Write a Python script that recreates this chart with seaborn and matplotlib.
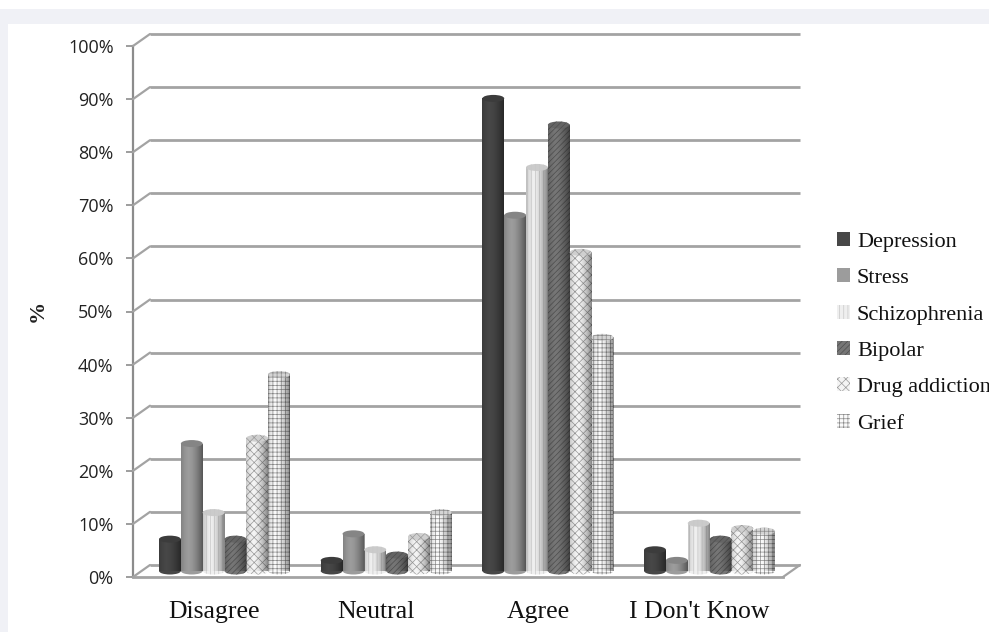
import numpy as np
import pandas as pd
import matplotlib
matplotlib.use("Agg")
import matplotlib.pyplot as plt
from matplotlib.patches import Rectangle, Ellipse, Patch
from matplotlib.lines import Line2D
from matplotlib.transforms import ScaledTranslation
import seaborn as sns

responses = ["Disagree", "Neutral", "Agree", "I Don't Know"]
conditions = ["Depression", "Stress", "Schizophrenia", "Bipolar", "Drug addiction", "Grief"]

depression = [6, 2, 89, 4]
stress = [24, 7, 67, 2]
schizophrenia = [11, 4, 76, 9]
bipolar = [6, 3, 84, 6]
drug_addiction = [25, 6.5, 60, 8]
grief = [37, 11, 44, 7.5]

values = [depression, stress, schizophrenia, bipolar, drug_addiction, grief]
rows = []
for cond, vals in zip(conditions, values):
    for resp, v in zip(responses, vals):
        rows.append({"response": resp, "condition": cond, "pct": v})
df = pd.DataFrame(rows)

faces = ["#474747", "#9c9c9c", "#efefef", "#767676", "#f4f4f4", "#fafafa"]
hatch_col = ["#474747", "#9c9c9c", "#c8c8c8", "#4e4e4e", "#9a9a9a", "#8a8a8a"]
hatches = ["", "", "||||", "//////", "xxxx", "++++"]

sns.set_style("white")
plt.rcParams["hatch.linewidth"] = 0.5

fig = plt.figure(figsize=(9.89, 6.32), dpi=100)
fig.patch.set_facecolor("white")
# light band round the chart, as in the screenshot
fig.patches.append(Rectangle((0, 1 - 24 / 632), 1, 15 / 632, transform=fig.transFigure,
                             facecolor="#f0f1f6", edgecolor="none", zorder=0))
fig.patches.append(Rectangle((0, 0), 8 / 989, 1 - 9 / 632, transform=fig.transFigure,
                             facecolor="#f0f1f6", edgecolor="none", zorder=0))

ax = fig.add_axes([133 / 989, 55 / 632, 650 / 989, 531 / 632])
ax.set_facecolor("none")

sns.barplot(data=df, x="response", y="pct", hue="condition", order=responses,
            hue_order=conditions, palette=dict(zip(conditions, faces)),
            saturation=1, errorbar=None, width=0.81, ax=ax, legend=False,
            linewidth=0, zorder=3)

ax.set_xlim(-0.566, 3.454)
ax.set_ylim(0, 100)

# bars stand half-way back on the 3D floor
lift = ScaledTranslation(0, 6 / 100, fig.dpi_scale_trans)
px_y = 100 / 531
cap_h = 7 * px_y
grad = np.linspace(0, 1, 64)
shade = np.zeros((1, 64, 4))
shade[..., 3] = 0.45 * np.abs(grad - 0.35) ** 1.6 / 0.65 ** 1.6

for i, cont in enumerate(ax.containers):
    for bar in cont:
        bar.set_hatch(hatches[i])
        bar.set_edgecolor(hatch_col[i])
        bar.set_linewidth(0)
        bar.set_transform(ax.transData + lift)
        x, w, h = bar.get_x(), bar.get_width(), bar.get_height()
        bot = Ellipse((x + w / 2, 0), w, cap_h, facecolor=faces[i], edgecolor=hatch_col[i],
                      hatch=hatches[i], linewidth=0, zorder=2.9, clip_on=False,
                      transform=ax.transData + lift)
        ax.add_patch(bot)
        im = ax.imshow(shade, extent=[x, x + w, 0, h], aspect="auto", zorder=3.5,
                       interpolation="bilinear")
        im.set_transform(ax.transData + lift)
        im.set_clip_path(bar)
        top_face = [c * 0.85 for c in matplotlib.colors.to_rgb(faces[i])]
        cap = Ellipse((x + w / 2, h), w, cap_h, facecolor=top_face, edgecolor=hatch_col[i],
                      hatch=hatches[i], linewidth=0, zorder=4, clip_on=False,
                      transform=ax.transData + lift)
        ax.add_patch(cap)

ax.set_xlim(-0.566, 3.454)
ax.set_ylim(0, 100)

# back wall gridlines, shifted like the 3D view
grid_c = "#a3a3a3"
dx, dy = 17, 12
off = ScaledTranslation(dx / 100, dy / 100, fig.dpi_scale_trans)
ticks = list(range(0, 101, 10))
inv = fig.transFigure.inverted()
for v in ticks:
    ax.plot([0, 1], [v, v], color=grid_c, lw=2, transform=ax.get_yaxis_transform() + off,
            zorder=1, clip_on=False, solid_capstyle="butt")
    p0 = ax.get_yaxis_transform().transform((0, v))
    a = inv.transform(p0)
    b = inv.transform(p0 + np.array([dx, dy]))
    fig.add_artist(Line2D([a[0], b[0]], [a[1], b[1]], color=grid_c, lw=1.6, zorder=1))
# right edge of the floor
p0 = ax.transAxes.transform((1, 0))
a = inv.transform(p0)
b = inv.transform(p0 + np.array([dx, dy]))
fig.add_artist(Line2D([a[0], b[0]], [a[1], b[1]], color=grid_c, lw=1.6, zorder=1))

for s in ["top", "right"]:
    ax.spines[s].set_visible(False)
ax.spines["left"].set_color("#8c8c8c")
ax.spines["left"].set_linewidth(1.6)
ax.spines["bottom"].set_color(grid_c)
ax.spines["bottom"].set_linewidth(2)
ax.spines["bottom"].set_zorder(5)

ax.set_yticks(ticks)
ax.set_yticklabels([f"{v}%" for v in ticks], fontfamily="Open Sans", fontsize=13,
                   color="#222222")
ax.tick_params(axis="y", direction="out", length=5, width=1.2, color="#8c8c8c", pad=9, left=True)
ax.tick_params(axis="x", length=0, pad=17)
ax.set_xticks(range(len(responses)))
ax.set_xticklabels(responses, fontfamily="Liberation Serif", fontsize=18.5, color="#111111")
shift = ScaledTranslation(-10 / 100, 0, fig.dpi_scale_trans)
for lbl in ax.get_xticklabels():
    lbl.set_transform(lbl.get_transform() + shift)

ax.set_xlabel("")
ax.set_ylabel("")
fig.text(38 / 989, 1 - 311 / 632, "%", rotation=90, ha="center", va="center",
         fontfamily="Liberation Serif", fontweight="bold", fontsize=16, color="#222222")

handles = [Patch(facecolor=faces[i], edgecolor=hatch_col[i], hatch=hatches[i], linewidth=0)
           for i in range(len(conditions))]
leg = fig.legend(handles, conditions, loc="upper left", bbox_to_anchor=(837 / 989, 1 - 232 / 632),
                 frameon=False, prop={"family": "Liberation Serif", "size": 16},
                 handlelength=0.6, handleheight=0.6, handletextpad=0.3, labelspacing=0.74,
                 borderaxespad=0, borderpad=0)
for t in leg.get_texts():
    t.set_color("#111111")

fig.savefig("out.png", dpi=100, facecolor=fig.get_facecolor())
